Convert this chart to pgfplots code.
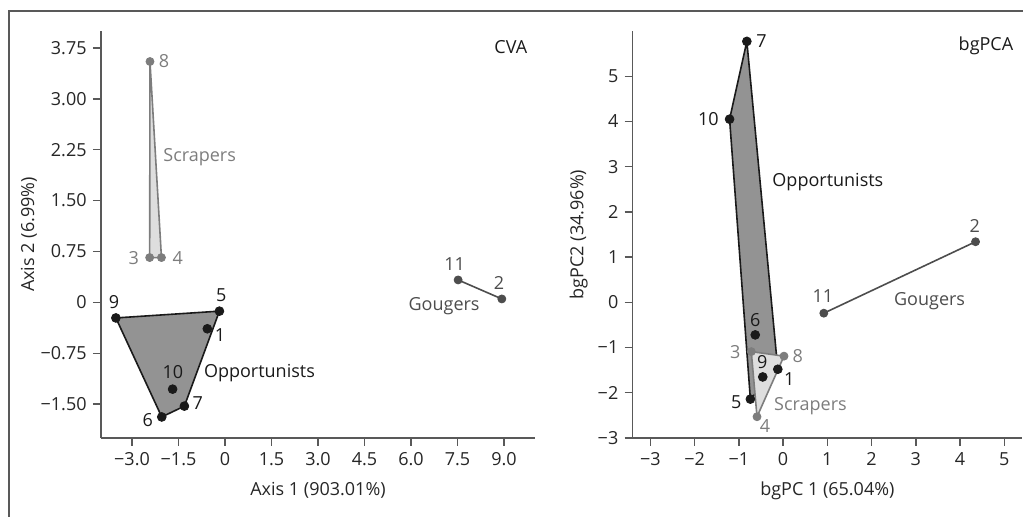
\documentclass[border=0pt]{standalone}
\usepackage{fontspec}
\setmainfont{Open Sans}
\usepackage{pgfplots}
\pgfplotsset{compat=1.18}

\definecolor{opp}{HTML}{1A1A1A}
\definecolor{oppfill}{HTML}{939393}
\definecolor{scr}{HTML}{7D7D7D}
\definecolor{scrfill}{HTML}{DEDEDE}
\definecolor{gou}{HTML}{4D4D4D}
\definecolor{axgray}{HTML}{595959}
\definecolor{txt}{HTML}{262626}

\pgfplotsset{
  panel/.style={
    scale only axis,
    axis lines=left,
    enlargelimits=false,
    clip=false,
    axis line style={-, draw=axgray, line width=0.7pt},
    tick style={draw=axgray, line width=0.7pt},
    major tick length=4pt,
    tick align=outside,
    ticklabel style={text=txt},
    every axis x label/.style={at={(axis description cs:0.5,0)}, anchor=center, yshift=-26.3pt, text=txt},
    every axis y label/.style={at={(axis description cs:0,0.5)}, anchor=center, rotate=90, text=txt},
    width=217pt, height=203.5pt,
  },
  grp/.style={only marks, mark=*, mark size=2.2pt, draw=#1, fill=#1},
}

\begin{document}
\fontsize{9}{11}\selectfont
\begin{tikzpicture}
\useasboundingbox (0,0) rectangle (511.5pt,258.5pt);
\draw[axgray, line width=0.7pt] (4.5pt,0) -- (4.5pt,253pt) -- (511.5pt,253pt);

% CVA
\begin{axis}[panel,
  at={(50.5pt,39.5pt)}, anchor=south west,
  xmin=-4, xmax=10, ymin=-2, ymax=4,
  xtick={-3,-1.5,0,1.5,3,4.5,6,7.5,9},
  xticklabels={−3.0,−1.5,0,1.5,3.0,4.5,6.0,7.5,9.0},
  ytick={-1.5,-0.75,0,0.75,1.5,2.25,3,3.75},
  yticklabels={−1.50,−0.75,0,0.75,1.50,2.25,3.00,3.75},
  xlabel={Axis 1 (903.01\%)},
  ylabel={Axis 2 (6.99\%)},
  ylabel style={yshift=36pt},
]
\addplot[draw=opp, fill=oppfill, line width=0.8pt] coordinates {
  (-3.52,-0.23) (-0.18,-0.13) (-1.31,-1.53) (-2.04,-1.69)} -- cycle;
\addplot[draw=scr, fill=scrfill, line width=0.8pt] coordinates {
  (-2.42,3.55) (-2.05,0.66) (-2.43,0.66)} -- cycle;
\addplot[draw=gou, line width=0.8pt] coordinates {(7.52,0.33) (8.93,0.05)};
% Opportunists
\addplot[grp=opp] coordinates {
  (-0.57,-0.39) (-0.18,-0.13) (-2.04,-1.69) (-1.31,-1.53) (-3.52,-0.23) (-1.69,-1.28)};
% Scrapers
\addplot[grp=scr, mark size=2pt] coordinates {(-2.43,0.66) (-2.05,0.66) (-2.42,3.55)};
% Gougers
\addplot[grp=gou, mark size=2pt] coordinates {(8.93,0.05) (7.52,0.33)};

\node[text=scr] at (-1.97,3.55) {8};
\node[text=scr] at (-2.94,0.65) {3};
\node[text=scr] at (-1.52,0.65) {4};
\node[text=opp] at (-3.58,0.01) {9};
\node[text=opp] at (-0.12,0.11) {5};
\node[text=opp] at (-0.16,-0.48) {1};
\node[text=opp] at (-1.68,-1.03) {10};
\node[text=opp] at (-0.88,-1.49) {7};
\node[text=opp] at (-2.49,-1.74) {6};
\node[text=gou] at (7.41,0.57) {11};
\node[text=gou] at (8.84,0.29) {2};

\node[text=scr, anchor=west, inner sep=0pt] at (-2.0,2.14) {Scrapers};
\node[text=opp, anchor=west, inner sep=0pt] at (-0.69,-1.04) {Opportunists};
\node[text=gou, anchor=west, inner sep=0pt] at (5.91,-0.05) {Gougers};
\node[text=opp, anchor=east, inner sep=0pt] at (9.76,3.77) {CVA};
\end{axis}

% bgPCA
\begin{axis}[panel,
  at={(316.35pt,39.5pt)}, anchor=south west,
  width=194.65pt,
  xmin=-3.4, xmax=5.4, ymin=-3, ymax=6,
  xtick={-3,...,5},
  xticklabels={−3,−2,−1,0,1,2,3,4,5},
  ytick={-3,...,5},
  yticklabels={−3,−2,−1,0,1,2,3,4,5},
  xlabel={bgPC 1 (65.04\%)},
  ylabel={bgPC2 (34.96\%)},
  ylabel style={yshift=27pt},
]
\addplot[draw=opp, fill=oppfill, line width=0.8pt] coordinates {
  (-0.82,5.77) (-0.12,-1.48) (-0.74,-2.14) (-1.21,4.05)} -- cycle;
\addplot[draw=scr, fill=scrfill, line width=0.8pt] coordinates {
  (-0.72,-1.09) (0.02,-1.19) (-0.59,-2.53)} -- cycle;
\addplot[draw=gou, line width=0.8pt] coordinates {(0.92,-0.24) (4.35,1.34)};
% Opportunists
\addplot[grp=opp] coordinates {
  (-0.12,-1.48) (-0.74,-2.14) (-0.63,-0.72) (-0.82,5.77) (-0.46,-1.65) (-1.21,4.05)};
% Scrapers
\addplot[grp=scr, mark size=2pt] coordinates {(-0.72,-1.09) (-0.59,-2.53) (0.02,-1.19)};
% Gougers
\addplot[grp=gou, mark size=2pt] coordinates {(4.35,1.34) (0.92,-0.24)};

\node[text=opp] at (-0.49,5.77) {7};
\node[text=opp] at (-1.69,4.05) {10};
\node[text=opp] at (-0.63,-0.39) {6};
\node[text=scr] at (-1.08,-1.09) {3};
\node[text=scr] at (0.33,-1.18) {8};
\node[text=opp] at (-0.47,-1.33) {9};
\node[text=opp] at (0.14,-1.70) {1};
\node[text=opp] at (-1.06,-2.20) {5};
\node[text=scr] at (-0.41,-2.74) {4};
\node[text=gou] at (0.90,0.14) {11};
\node[text=gou] at (4.33,1.69) {2};

\node[text=opp, anchor=west, inner sep=0pt] at (-0.25,2.65) {Opportunists};
\node[text=gou, anchor=west, inner sep=0pt] at (2.50,0.03) {Gougers};
\node[text=scr, anchor=west, inner sep=0pt] at (-0.21,-2.29) {Scrapers};
\node[text=opp, anchor=east, inner sep=0pt] at (5.21,5.67) {bgPCA};
\end{axis}
\end{tikzpicture}
\end{document}
